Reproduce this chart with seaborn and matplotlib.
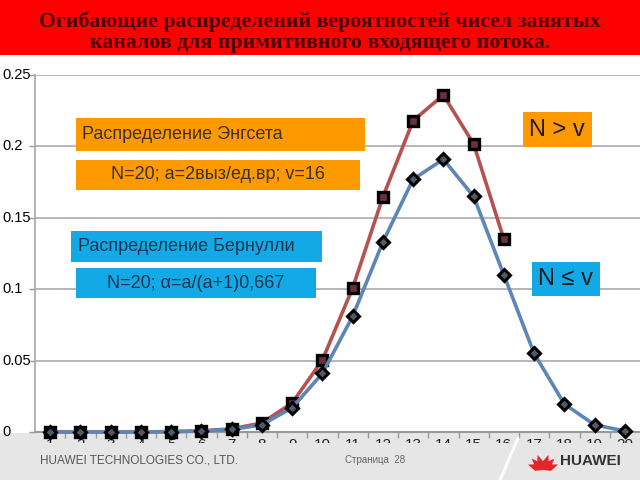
import matplotlib
matplotlib.use("Agg")
import matplotlib.pyplot as plt
from matplotlib.patches import Rectangle, Polygon
from matplotlib.transforms import blended_transform_factory
import seaborn as sns
import pandas as pd
import numpy as np

sns.set_theme(style="white")
plt.rcParams['font.family'] = ['Liberation Sans', 'DejaVu Sans']

# ---- data ----
x_bern = list(range(1, 21))
bernoulli = [0.0, 0.0, 0.0, 0.0, 0.0002, 0.0006, 0.0018, 0.005, 0.017, 0.041,
             0.081, 0.133, 0.177, 0.191, 0.165, 0.110, 0.055, 0.0196, 0.005, 0.0007]
x_engset = list(range(1, 17))
engset = [0.0, 0.0, 0.0, 0.0, 0.0003, 0.0008, 0.0022, 0.0063, 0.0203, 0.0504,
          0.1008, 0.1646, 0.218, 0.236, 0.2017, 0.135]
x_ticks = list(range(1, 21))
y_ticks = [0, 0.05, 0.1, 0.15, 0.2, 0.25]
y_ticklabels = ["0", "0.05", "0.1", "0.15", "0.2", "0.25"]

title = "Огибающие распределений вероятностей чисел занятых\nканалов для примитивного входящего потока."
box_texts = ["Распределение Энгсета", "N=20; a=2выз/ед.вр; v=16",
             "Распределение Бернулли", "N=20; α=a/(a+1)0,667", "N > v", "N ≤ v"]

df_b = pd.DataFrame({"x": x_bern, "y": bernoulli})
df_e = pd.DataFrame({"x": x_engset, "y": engset})

W, H = 640, 480
fig = plt.figure(figsize=(6.4, 4.8), dpi=100, facecolor="white")

def fx(px):
    return px / W

def fy(py):
    return 1 - py / H

# footer band (behind the axes)
fig.patches.append(Rectangle((0, 0), 1, fy(433), transform=fig.transFigure,
                             facecolor="#e6e6e6", edgecolor="none", zorder=-2))

ax = fig.add_axes([fx(35), fy(432), 1 - fx(35), fy(75) - fy(432)])
ax.set_facecolor("none")

red_c = "#b5524f"
blue_c = "#5b86b5"
sns.lineplot(data=df_e, x="x", y="y", ax=ax, color=red_c, lw=2.6, zorder=3,
             marker="s", markersize=7, markerfacecolor="#6a3040",
             markeredgecolor="black", markeredgewidth=2.4, clip_on=False)
sns.lineplot(data=df_b, x="x", y="y", ax=ax, color=blue_c, lw=2.6, zorder=4,
             marker="D", markersize=6.5, markerfacecolor="#505a66",
             markeredgecolor="black", markeredgewidth=2.2, clip_on=False)

ax.set_xlim(0.5, 20.5)
ax.set_ylim(0, 0.25)
ax.set_yticks(y_ticks)
ax.set_yticklabels([])
# left-aligned y tick labels starting near the left edge
trans = blended_transform_factory(fig.transFigure, ax.transData)
for v, lab in zip(y_ticks, y_ticklabels):
    ax.text(fx(2), v, lab, transform=trans, ha="left", va="center",
            fontsize=10.5, color="black", clip_on=False)
ax.set_xticks(x_ticks)
ax.set_xticklabels([str(v) for v in x_ticks], fontsize=11, color="#222222")
ax.set_xticks(np.arange(1.5, 20.5, 1), minor=True)
ax.tick_params(axis="y", which="major", length=4, color="#999999", width=1, left=True)
ax.tick_params(axis="x", which="major", length=0, pad=4)
ax.tick_params(axis="x", which="minor", length=4, color="#999999", bottom=True)
ax.grid(axis="y", color="#aaaaaa", lw=1.2)
ax.set_axisbelow(True)
for s in ["top", "right"]:
    ax.spines[s].set_visible(False)
ax.spines["left"].set_color("#aaaaaa")
ax.spines["bottom"].set_color("#999999")
ax.spines["bottom"].set_linewidth(1.5)
ax.set_xlabel("")
ax.set_ylabel("")

# banner
fig.patches.append(Rectangle((0, fy(55)), 1, 1 - fy(55), transform=fig.transFigure,
                             facecolor="#ff0000", edgecolor="none", zorder=-2))
fig.text(0.5, fy(32), title, ha="center", va="center", fontsize=15.7,
         fontweight="bold", family="Liberation Serif", color="#4a0000",
         linespacing=1.1)

orange = "#ff9900"
blue_box = "#12a9e6"
boxes = [
    (76, 118, 365, 151, orange, box_texts[0], 82, "left"),
    (76, 160, 360, 190, orange, box_texts[1], 218, "center"),
    (71, 231, 322, 262, blue_box, box_texts[2], 78, "left"),
    (76, 268, 316, 298, blue_box, box_texts[3], 196, "center"),
    (523, 112, 592, 147, orange, box_texts[4], 557, "center"),
    (532, 262, 600, 296, blue_box, box_texts[5], 566, "center"),
]
for (x0, y0, x1, y1, c, t, tx, ha) in boxes:
    fig.patches.append(Rectangle((fx(x0), fy(y1)), fx(x1) - fx(x0), fy(y0) - fy(y1),
                                 transform=fig.transFigure, facecolor=c,
                                 edgecolor="none", zorder=5))
    fs = 17 if t in ("N > v", "N ≤ v") else 13
    tc = "#1a1a1a" if t in ("N > v", "N ≤ v") else ("#3a3030" if c == orange else "#1a3550")
    fig.text(fx(tx), fy((y0 + y1) / 2), t, ha=ha, va="center", fontsize=fs,
             color=tc, zorder=6, family=["Liberation Sans", "DejaVu Sans"])

# lower footer overlay cutting tick labels
footer_ax = fig.add_axes([0, 0, 1, fy(443)], zorder=10)
footer_ax.set_xlim(0, W)
footer_ax.set_ylim(480, 443)
footer_ax.axis("off")
footer_ax.add_patch(Rectangle((0, 443), W, 37, facecolor="#e6e6e6", edgecolor="none"))
footer_ax.plot([518, 500], [438, 480], color="white", lw=2, clip_on=False)
footer_ax.text(40, 460, "HUAWEI TECHNOLOGIES CO., LTD.", fontsize=8.5, color="#555555",
               va="center", ha="left")
footer_ax.text(345, 460, "Страница  28", fontsize=7, color="#666666", va="center", ha="left")
# logo petals
cx, cy = 543, 470
for ang in [-70, -45, -20, 20, 45, 70]:
    a = np.deg2rad(ang)
    tipx, tipy = cx + 16 * np.sin(a), cy - 16 * np.cos(a)
    px, py = -np.cos(a), -np.sin(a)
    pts = [(cx, cy), (cx + 0.45 * (tipx - cx) + 3.5 * px, cy + 0.45 * (tipy - cy) + 3.5 * py),
           (tipx, tipy), (cx + 0.45 * (tipx - cx) - 3.5 * px, cy + 0.45 * (tipy - cy) - 3.5 * py)]
    footer_ax.add_patch(Polygon(pts, closed=True, facecolor="#e3262b", edgecolor="none"))
footer_ax.text(560, 461, "HUAWEI", fontsize=11, fontweight="bold", color="#333333",
               va="center", ha="left")

fig.savefig("out.png", dpi=100, facecolor=fig.get_facecolor())
